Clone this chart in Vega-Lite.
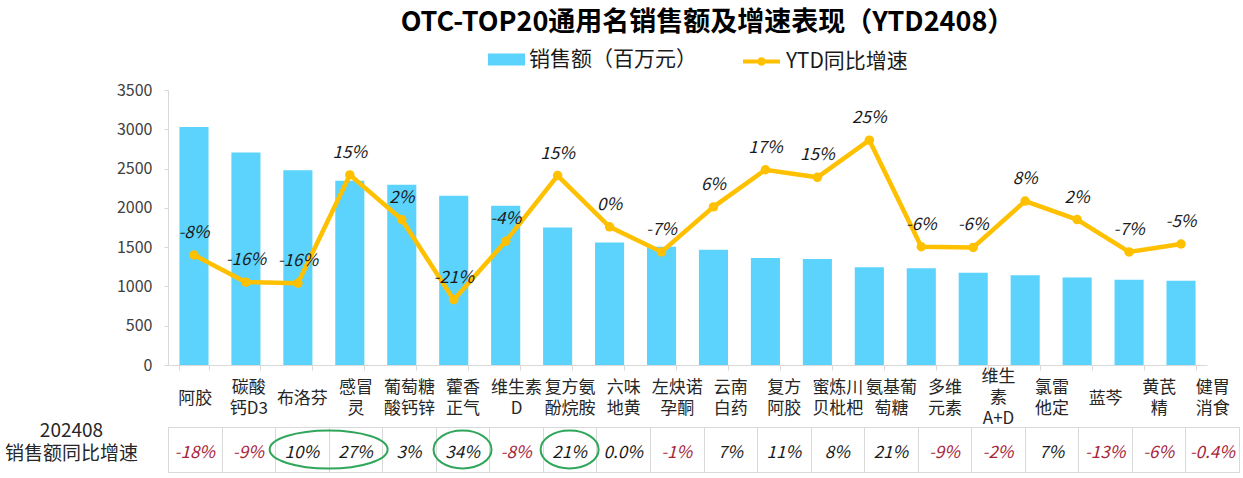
{
  "$schema": "https://vega.github.io/schema/vega-lite/v6.json",
  "background": "white",
  "padding": {"left": 3, "top": 9, "right": 5, "bottom": 2},
  "bounds": "flush",
  "spacing": 62,
  "config": {
    "font": "Noto Sans CJK SC",
    "view": {"stroke": null},
    "locale": {"number": {"decimal": ".", "thousands": ",", "grouping": [3], "currency": ["$", ""], "minus": "-"}}
  },
  "datasets": {
    "drugs": [
      {"name": "阿胶", "sales": 3030, "ytd": -0.080, "m": -0.18, "circle": ""},
      {"name": "碳酸\n钙D3", "sales": 2705, "ytd": -0.159, "m": -0.09, "circle": ""},
      {"name": "布洛芬", "sales": 2480, "ytd": -0.162, "m": 0.10, "circle": "pair"},
      {"name": "感冒\n灵", "sales": 2345, "ytd": 0.153, "m": 0.27, "circle": ""},
      {"name": "葡萄糖\n酸钙锌", "sales": 2295, "ytd": 0.023, "m": 0.03, "circle": ""},
      {"name": "藿香\n正气", "sales": 2155, "ytd": -0.210, "m": 0.34, "circle": "single"},
      {"name": "维生素\nD", "sales": 2028, "ytd": -0.040, "m": -0.08, "circle": ""},
      {"name": "复方氨\n酚烷胺", "sales": 1750, "ytd": 0.151, "m": 0.21, "circle": "single"},
      {"name": "六味\n地黄", "sales": 1558, "ytd": 0.002, "m": 0.0, "circle": ""},
      {"name": "左炔诺\n孕酮", "sales": 1505, "ytd": -0.071, "m": -0.01, "circle": ""},
      {"name": "云南\n白药", "sales": 1468, "ytd": 0.060, "m": 0.07, "circle": ""},
      {"name": "复方\n阿胶", "sales": 1363, "ytd": 0.168, "m": 0.11, "circle": ""},
      {"name": "蜜炼川\n贝枇杷", "sales": 1350, "ytd": 0.146, "m": 0.08, "circle": ""},
      {"name": "氨基葡\n萄糖", "sales": 1243, "ytd": 0.254, "m": 0.21, "circle": ""},
      {"name": "多维\n元素", "sales": 1230, "ytd": -0.056, "m": -0.09, "circle": ""},
      {"name": "维生\n素\nA+D", "sales": 1175, "ytd": -0.058, "m": -0.02, "circle": ""},
      {"name": "氯雷\n他定", "sales": 1141, "ytd": 0.077, "m": 0.07, "circle": ""},
      {"name": "蓝芩", "sales": 1115, "ytd": 0.023, "m": -0.13, "circle": ""},
      {"name": "黄芪\n精", "sales": 1086, "ytd": -0.071, "m": -0.06, "circle": ""},
      {"name": "健胃\n消食", "sales": 1073, "ytd": -0.048, "m": -0.004, "circle": ""}
    ]
  },
  "vconcat": [
    {
      "width": 1039,
      "height": 275,
      "title": {"text": "OTC-TOP20通用名销售额及增速表现（YTD2408）", "fontSize": 27, "fontWeight": "bold", "color": "#000000", "anchor": "middle", "frame": "group", "dx": 20, "offset": 45},
      "data": {"name": "drugs"},
      "encoding": {
        "x": {"field": "name", "type": "nominal", "sort": null,
          "scale": {"paddingInner": 0.44, "paddingOuter": 0.22},
          "axis": {"title": null, "labels": false, "domainColor": "#D9D9D9", "tickColor": "#D9D9D9", "tickBand": "extent", "tickSize": 5, "grid": false}}
      },
      "layer": [
        {
          "mark": {"type": "bar", "opacity": 1},
          "encoding": {
            "y": {"field": "sales", "type": "quantitative", "scale": {"domain": [0, 3500], "nice": false},
              "axis": {"title": null, "format": "d", "values": [0, 500, 1000, 1500, 2000, 2500, 3000, 3500], "labelFontSize": 16, "labelColor": "#404040", "domainColor": "#D9D9D9", "tickColor": "#D9D9D9", "tickSize": 4, "labelPadding": 12, "grid": false}},
            "fill": {"datum": "销售额（百万元）", "type": "nominal",
              "scale": {"domain": ["销售额（百万元）"], "range": ["#5BD3FD"]},
              "legend": {"orient": "none", "legendX": 320, "legendY": -49, "title": null,
                "labelFontSize": 21, "labelColor": "#1A1A1A", "labelLimit": 400, "symbolSize": 1369, "symbolStrokeWidth": 0,
                "symbolType": "M-1,-0.32H1V0.32H-1Z", "labelOffset": 4, "padding": 0}}
          }
        },
        {
          "mark": {"type": "line", "strokeWidth": 4.5},
          "encoding": {
            "y": {"field": "ytd", "type": "quantitative", "scale": {"domain": [-0.4, 0.4], "nice": false}, "axis": null},
            "stroke": {"datum": "YTD同比增速", "type": "nominal",
              "scale": {"domain": ["YTD同比增速"], "range": ["#FFC000"]},
              "legend": {"orient": "none", "legendX": 573, "legendY": -49, "title": null,
                "labelFontSize": 21, "labelColor": "#1A1A1A", "labelLimit": 400, "symbolSize": 1369, "symbolStrokeWidth": 4,
                "symbolType": "M-1,0H1M0.12,0A0.12,0.12 0 1,1 -0.12,0A0.12,0.12 0 1,1 0.12,0", "labelOffset": 4, "padding": 0}}
          }
        },
        {
          "mark": {"type": "point", "filled": true, "size": 90, "opacity": 1, "color": "#FFC000"},
          "encoding": {
            "y": {"field": "ytd", "type": "quantitative", "scale": {"domain": [-0.4, 0.4], "nice": false}, "axis": null}
          }
        },
        {
          "mark": {"type": "text", "dy": -22, "fontSize": 17, "fontStyle": "italic", "color": "#1A1A1A"},
          "encoding": {
            "y": {"field": "ytd", "type": "quantitative", "scale": {"domain": [-0.4, 0.4], "nice": false}, "axis": null},
            "text": {"field": "ytd", "type": "quantitative", "format": ".0%"}
          }
        }
      ],
      "resolve": {"scale": {"y": "independent"}}
    },
    {
      "width": 1071,
      "height": 45,
      "view": {"stroke": "#D9D9D9", "strokeWidth": 1},
      "data": {"name": "drugs"},
      "layer": [
        {
          "mark": {"type": "text", "fontSize": 17, "fontStyle": "italic", "dy": 3},
          "encoding": {
            "x": {"field": "name", "type": "nominal", "sort": null,
              "scale": {"type": "band", "paddingInner": 0, "paddingOuter": 0},
              "axis": {"orient": "top", "title": null, "labelExpr": "split(datum.label, '\\n')", "labelFontSize": 17, "labelColor": "#262626", "labelAngle": 0, "labelBaseline": "middle", "labelLineHeight": 21,
                "labelPadding": {"condition": [{"test": "length(split(datum.value, '\\n')) == 3", "value": 51}, {"test": "length(split(datum.value, '\\n')) == 2", "value": 40}], "value": 29},
                "ticks": false, "domainColor": "#D9D9D9", "grid": true, "gridColor": "#D9D9D9", "tickBand": "extent"}},
            "y": {"datum": "202408\n销售额同比增速", "type": "nominal",
              "axis": {"title": null, "domain": false, "ticks": false, "tickSize": 0, "labelExpr": "split(datum.label, '\\n')", "labelAlign": "center", "labelBaseline": "middle", "labelPadding": 97, "labelOffset": -19, "labelFontSize": 19, "labelLineHeight": 23, "labelColor": "#262626"}},
            "text": {"condition": {"test": "abs(datum.m) < 0.01", "field": "m", "type": "quantitative", "format": ".1%"}, "field": "m", "type": "quantitative", "format": ".0%"},
            "color": {"condition": {"test": "datum.m < 0", "value": "#A8243A"}, "value": "#1A1A1A"}
          }
        },
        {
          "transform": [{"filter": "datum.circle == 'pair'"}],
          "mark": {"type": "point", "shape": "M-1,0A1,0.322 0 1,0 1,0A1,0.322 0 1,0 -1,0Z", "size": 13924, "filled": false, "color": "#2FA65A", "strokeWidth": 2, "opacity": 1},
          "encoding": {
            "x": {"field": "name", "type": "nominal", "sort": null, "bandPosition": 1},
            "y": {"datum": "202408\n销售额同比增速", "type": "nominal"}
          }
        },
        {
          "transform": [{"filter": "datum.circle == 'single'"}],
          "mark": {"type": "point", "shape": "M-1,0A1,0.655 0 1,0 1,0A1,0.655 0 1,0 -1,0Z", "size": 3364, "filled": false, "color": "#2FA65A", "strokeWidth": 2, "opacity": 1},
          "encoding": {
            "x": {"field": "name", "type": "nominal", "sort": null},
            "y": {"datum": "202408\n销售额同比增速", "type": "nominal"}
          }
        }
      ]
    }
  ]
}
